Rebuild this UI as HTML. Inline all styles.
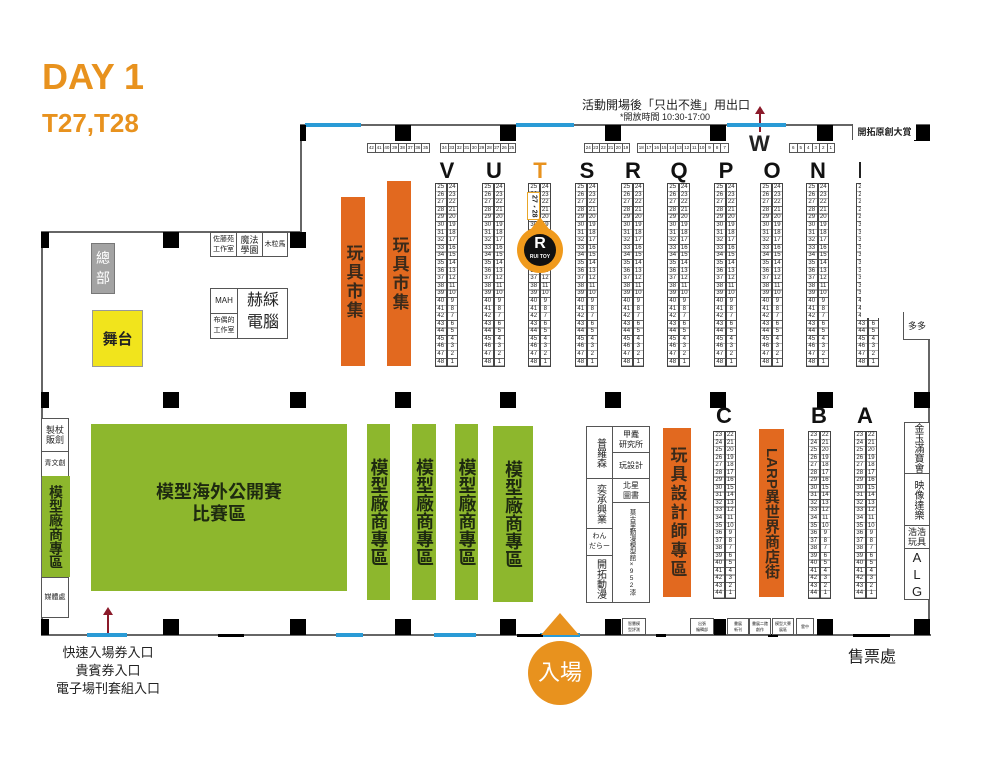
<!DOCTYPE html>
<html><head><meta charset="utf-8"><style>
*{margin:0;padding:0;box-sizing:border-box}
body{width:1000px;height:760px;background:#fff;position:relative;overflow:hidden;font-family:"Liberation Sans","Noto Sans CJK TC",sans-serif;color:#222}
.a{position:absolute}
.w{position:absolute;background:#666}
.p{position:absolute;background:#000;width:16px;height:16px}
.bl{position:absolute;background:#2a9bd6;height:4px}
.bb{position:absolute;background:#000;height:3px}
.col{position:absolute;top:183px;width:23px;display:flex;font-size:6px;line-height:7.6px;text-align:center}
.col>div{width:11.5px;border:1px solid #444;background:repeating-linear-gradient(to bottom,#fff 0,#fff 6.8px,#666 6.8px,#666 7.6px)}
.cb{top:431px;line-height:7.55px}
.cb>div{background:repeating-linear-gradient(to bottom,#fff 0,#fff 6.75px,#666 6.75px,#666 7.55px)}
.lt{position:absolute;top:158px;font-size:22px;font-weight:bold;width:30px;text-align:center;color:#111}
.or{position:absolute;background:#e2691f;color:#3a2a1a;font-size:17px;font-weight:bold;display:flex;align-items:center;justify-content:center;writing-mode:vertical-rl;text-orientation:upright;letter-spacing:2px}
.gr{position:absolute;background:#8db72d;color:#1e2a10;font-size:18px;font-weight:bold;display:flex;align-items:center;justify-content:center;writing-mode:vertical-rl;text-orientation:upright}
.bx{position:absolute;border:1px solid #555;background:#fff;display:flex;align-items:center;justify-content:center;text-align:center;font-size:8px;line-height:10px}
.vt{writing-mode:vertical-rl;text-orientation:upright}
.strip{position:absolute;top:143px;height:10px;display:flex;font-size:4.5px;line-height:8px}
.strip span{flex:1;border:1px solid #555;margin-right:-1px;text-align:center}
</style></head><body>

<div class="a" style="left:42px;top:56px;font-size:36px;font-weight:bold;color:#e8921e">DAY 1</div>
<div class="a" style="left:42px;top:108px;font-size:26px;font-weight:bold;color:#e8921e">T27,T28</div>

<div class="a" style="left:582px;top:96px;font-size:12px">活動開場後「只出不進」用出口</div>
<div class="a" style="left:620px;top:110px;font-size:9px">*開放時間 10:30-17:00</div>
<div class="a" style="left:759px;top:110px;width:2px;height:22px;background:#8b1a2a"></div>
<div class="a" style="left:755px;top:106px;border-left:5px solid transparent;border-right:5px solid transparent;border-bottom:8px solid #8b1a2a"></div>

<!-- walls -->
<div class="w" style="left:300px;top:124px;width:630px;height:2px"></div>
<div class="w" style="left:300px;top:124px;width:2px;height:109px"></div>
<div class="w" style="left:41px;top:231px;width:260px;height:2px"></div>
<div class="w" style="left:41px;top:231px;width:2px;height:405px"></div>
<div class="w" style="left:41px;top:634px;width:890px;height:2px"></div>
<div class="w" style="left:928px;top:318px;width:2px;height:318px"></div>

<div class="bl" style="left:305px;top:123px;width:56px"></div>
<div class="bl" style="left:516px;top:123px;width:58px"></div>
<div class="bl" style="left:727px;top:123px;width:59px"></div>
<div class="bl" style="left:87px;top:633px;width:40px"></div>
<div class="bl" style="left:336px;top:633px;width:27px"></div>
<div class="bl" style="left:434px;top:633px;width:42px"></div>
<div class="bl" style="left:540px;top:633px;width:40px"></div>
<div class="bb" style="left:218px;top:634px;width:26px"></div>
<div class="bb" style="left:517px;top:634px;width:26px"></div>
<div class="bb" style="left:656px;top:634px;width:10px"></div>
<div class="bb" style="left:768px;top:634px;width:10px"></div>
<div class="bb" style="left:853px;top:634px;width:37px"></div>

<!-- pillars -->
<div class="p" style="left:300px;top:125px;width:6px"></div>
<div class="p" style="left:395px;top:125px"></div><div class="p" style="left:500px;top:125px"></div><div class="p" style="left:605px;top:125px"></div><div class="p" style="left:710px;top:125px"></div><div class="p" style="left:817px;top:125px"></div><div class="p" style="left:914px;top:125px"></div>
<div class="p" style="left:41px;top:232px;width:8px"></div><div class="p" style="left:163px;top:232px"></div><div class="p" style="left:290px;top:232px"></div>
<div class="p" style="left:41px;top:392px;width:8px"></div><div class="p" style="left:163px;top:392px"></div><div class="p" style="left:290px;top:392px"></div><div class="p" style="left:395px;top:392px"></div><div class="p" style="left:500px;top:392px"></div><div class="p" style="left:605px;top:392px"></div><div class="p" style="left:710px;top:392px"></div><div class="p" style="left:817px;top:392px"></div><div class="p" style="left:914px;top:392px"></div>
<div class="p" style="left:41px;top:619px;width:8px"></div><div class="p" style="left:163px;top:619px"></div><div class="p" style="left:290px;top:619px"></div><div class="p" style="left:395px;top:619px"></div><div class="p" style="left:500px;top:619px"></div><div class="p" style="left:605px;top:619px"></div><div class="p" style="left:710px;top:619px"></div><div class="p" style="left:817px;top:619px"></div><div class="p" style="left:914px;top:619px"></div>

<!-- top strips -->
<div class="strip" style="left:367px;width:62px"><span>42</span><span>41</span><span>40</span><span>39</span><span>38</span><span>37</span><span>36</span><span>35</span></div>
<div class="strip" style="left:440px;width:75px"><span>34</span><span>33</span><span>32</span><span>31</span><span>30</span><span>29</span><span>28</span><span>27</span><span>26</span><span>25</span></div>
<div class="strip" style="left:584px;width:45px"><span>24</span><span>23</span><span>22</span><span>21</span><span>20</span><span>19</span></div>
<div class="strip" style="left:637px;width:91px"><span>18</span><span>17</span><span>16</span><span>15</span><span>14</span><span>13</span><span>12</span><span>11</span><span>10</span><span>9</span><span>8</span><span>7</span></div>
<div class="strip" style="left:789px;width:45px"><span>6</span><span>5</span><span>4</span><span>3</span><span>2</span><span>1</span></div>
<div class="a" style="left:749px;top:131px;font-size:22px;font-weight:bold">W</div>

<!-- letters -->
<div class="lt" style="left:432px">V</div><div class="lt" style="left:479px">U</div><div class="lt" style="left:525px;color:#e8921e">T</div><div class="lt" style="left:572px">S</div><div class="lt" style="left:618px">R</div><div class="lt" style="left:664px">Q</div><div class="lt" style="left:711px">P</div><div class="lt" style="left:757px">O</div><div class="lt" style="left:803px">N</div>
<div class="a" style="left:859px;top:162px;width:2px;height:16px;background:#222"></div>

<!-- columns -->
<div class="col" style="left:435px"><div>25<br>26<br>27<br>28<br>29<br>30<br>31<br>32<br>33<br>34<br>35<br>36<br>37<br>38<br>39<br>40<br>41<br>42<br>43<br>44<br>45<br>46<br>47<br>48</div><div>24<br>23<br>22<br>21<br>20<br>19<br>18<br>17<br>16<br>15<br>14<br>13<br>12<br>11<br>10<br>9<br>8<br>7<br>6<br>5<br>4<br>3<br>2<br>1</div></div>
<div class="col" style="left:482px"><div>25<br>26<br>27<br>28<br>29<br>30<br>31<br>32<br>33<br>34<br>35<br>36<br>37<br>38<br>39<br>40<br>41<br>42<br>43<br>44<br>45<br>46<br>47<br>48</div><div>24<br>23<br>22<br>21<br>20<br>19<br>18<br>17<br>16<br>15<br>14<br>13<br>12<br>11<br>10<br>9<br>8<br>7<br>6<br>5<br>4<br>3<br>2<br>1</div></div>
<div class="col" style="left:528px"><div>25<br>26<br>27<br>28<br>29<br>30<br>31<br>32<br>33<br>34<br>35<br>36<br>37<br>38<br>39<br>40<br>41<br>42<br>43<br>44<br>45<br>46<br>47<br>48</div><div>24<br>23<br>22<br>21<br>20<br>19<br>18<br>17<br>16<br>15<br>14<br>13<br>12<br>11<br>10<br>9<br>8<br>7<br>6<br>5<br>4<br>3<br>2<br>1</div></div>
<div class="col" style="left:575px"><div>25<br>26<br>27<br>28<br>29<br>30<br>31<br>32<br>33<br>34<br>35<br>36<br>37<br>38<br>39<br>40<br>41<br>42<br>43<br>44<br>45<br>46<br>47<br>48</div><div>24<br>23<br>22<br>21<br>20<br>19<br>18<br>17<br>16<br>15<br>14<br>13<br>12<br>11<br>10<br>9<br>8<br>7<br>6<br>5<br>4<br>3<br>2<br>1</div></div>
<div class="col" style="left:621px"><div>25<br>26<br>27<br>28<br>29<br>30<br>31<br>32<br>33<br>34<br>35<br>36<br>37<br>38<br>39<br>40<br>41<br>42<br>43<br>44<br>45<br>46<br>47<br>48</div><div>24<br>23<br>22<br>21<br>20<br>19<br>18<br>17<br>16<br>15<br>14<br>13<br>12<br>11<br>10<br>9<br>8<br>7<br>6<br>5<br>4<br>3<br>2<br>1</div></div>
<div class="col" style="left:667px"><div>25<br>26<br>27<br>28<br>29<br>30<br>31<br>32<br>33<br>34<br>35<br>36<br>37<br>38<br>39<br>40<br>41<br>42<br>43<br>44<br>45<br>46<br>47<br>48</div><div>24<br>23<br>22<br>21<br>20<br>19<br>18<br>17<br>16<br>15<br>14<br>13<br>12<br>11<br>10<br>9<br>8<br>7<br>6<br>5<br>4<br>3<br>2<br>1</div></div>
<div class="col" style="left:714px"><div>25<br>26<br>27<br>28<br>29<br>30<br>31<br>32<br>33<br>34<br>35<br>36<br>37<br>38<br>39<br>40<br>41<br>42<br>43<br>44<br>45<br>46<br>47<br>48</div><div>24<br>23<br>22<br>21<br>20<br>19<br>18<br>17<br>16<br>15<br>14<br>13<br>12<br>11<br>10<br>9<br>8<br>7<br>6<br>5<br>4<br>3<br>2<br>1</div></div>
<div class="col" style="left:760px"><div>25<br>26<br>27<br>28<br>29<br>30<br>31<br>32<br>33<br>34<br>35<br>36<br>37<br>38<br>39<br>40<br>41<br>42<br>43<br>44<br>45<br>46<br>47<br>48</div><div>24<br>23<br>22<br>21<br>20<br>19<br>18<br>17<br>16<br>15<br>14<br>13<br>12<br>11<br>10<br>9<br>8<br>7<br>6<br>5<br>4<br>3<br>2<br>1</div></div>
<div class="col" style="left:806px"><div>25<br>26<br>27<br>28<br>29<br>30<br>31<br>32<br>33<br>34<br>35<br>36<br>37<br>38<br>39<br>40<br>41<br>42<br>43<br>44<br>45<br>46<br>47<br>48</div><div>24<br>23<br>22<br>21<br>20<br>19<br>18<br>17<br>16<br>15<br>14<br>13<br>12<br>11<br>10<br>9<br>8<br>7<br>6<br>5<br>4<br>3<br>2<br>1</div></div>
<div class="col" style="left:856px"><div>25<br>26<br>27<br>28<br>29<br>30<br>31<br>32<br>33<br>34<br>35<br>36<br>37<br>38<br>39<br>40<br>41<br>42<br>43<br>44<br>45<br>46<br>47<br>48</div><div>24<br>23<br>22<br>21<br>20<br>19<br>18<br>17<br>16<br>15<br>14<br>13<br>12<br>11<br>10<br>9<br>8<br>7<br>6<br>5<br>4<br>3<br>2<br>1</div></div>
<div class="a" style="left:861px;top:178px;width:69px;height:140px;background:#fff"></div>
<div class="bx" style="left:903px;top:312px;width:27px;height:28px;font-size:9px;border-right:none;border-top:none" >多多</div>
<div class="bx" style="left:852px;top:124px;width:64px;height:16px;font-size:9px;font-weight:bold;border:none;border-left:1px solid #555">開拓原創大賞</div>

<!-- T marker -->
<div class="bx" style="left:527px;top:192px;width:13px;height:28px;border:1.5px solid #e8a62a;font-size:7px;font-weight:bold;writing-mode:vertical-rl">27、28</div>
<div class="a" style="left:528px;top:217px;border-left:12px solid transparent;border-right:12px solid transparent;border-bottom:16px solid #f09a1c"></div>
<div class="a" style="left:517px;top:227px;width:46px;height:46px;border-radius:50%;background:#f09a1c"></div>
<div class="a" style="left:524px;top:234px;width:32px;height:32px;border-radius:50%;background:#111;color:#fff;text-align:center;font-size:16px;font-weight:bold;line-height:20px">R<div style="font-size:5px;line-height:6px">RUI TOY</div></div>

<!-- orange market -->
<div class="or" style="left:341px;top:197px;width:24px;height:169px">玩具市集</div>
<div class="or" style="left:387px;top:181px;width:24px;height:185px">玩具市集</div>

<!-- left upper -->
<div class="a" style="left:91px;top:243px;width:24px;height:51px;background:#a3a3a3;border:1px solid #777;color:#fff;font-size:14px;line-height:20px;text-align:center;padding-top:4px">總<br>部</div>
<div class="a" style="left:92px;top:310px;width:51px;height:57px;background:#f1e41c;border:1px solid #999;font-size:15px;font-weight:bold;display:flex;align-items:center;justify-content:center">舞台</div>
<div class="bx" style="left:210px;top:232px;width:27px;height:25px;font-size:7px">佐藤苑<br>工作室</div>
<div class="bx" style="left:236px;top:232px;width:27px;height:25px;font-size:9px">魔法<br>學園</div>
<div class="bx" style="left:262px;top:232px;width:26px;height:25px;font-size:7px">木粒馬</div>
<div class="bx" style="left:210px;top:288px;width:78px;height:51px"></div>
<div class="bx" style="left:210px;top:288px;width:28px;height:26px;font-size:8px">MAH</div>
<div class="bx" style="left:210px;top:313px;width:28px;height:26px;font-size:7px">布偶的<br>工作室</div>
<div class="a" style="left:240px;top:290px;width:46px;font-size:16px;line-height:22px;text-align:center">赫綵<br>電腦</div>

<!-- left wall -->
<div class="bx" style="left:41px;top:418px;width:28px;height:34px;font-size:9px">製杖<br>販劍</div>
<div class="bx" style="left:41px;top:451px;width:28px;height:26px;font-size:7px">青文創</div>
<div class="gr" style="left:42px;top:476px;width:28px;height:101px;font-size:14px">模型廠商專區</div>
<div class="bx" style="left:41px;top:577px;width:28px;height:41px;font-size:7px">媒體處</div>

<div class="a" style="left:91px;top:424px;width:256px;height:167px;background:#8db72d;color:#1e2a10;font-size:18px;font-weight:bold;text-align:center;padding-top:57px;line-height:22px">模型海外公開賽<br>比賽區</div>
<div class="gr" style="left:367px;top:424px;width:23px;height:176px">模型廠商專區</div>
<div class="gr" style="left:412px;top:424px;width:24px;height:176px">模型廠商專區</div>
<div class="gr" style="left:455px;top:424px;width:23px;height:176px">模型廠商專區</div>
<div class="gr" style="left:493px;top:426px;width:40px;height:176px">模型廠商專區</div>

<!-- middle stalls -->
<div class="bx vt" style="left:586px;top:426px;width:27px;height:53px;font-size:10px">普羅森</div>
<div class="bx vt" style="left:586px;top:478px;width:27px;height:51px;font-size:10px">奕承興業</div>
<div class="bx" style="left:586px;top:528px;width:27px;height:28px;font-size:7px">わん<br>だらー</div>
<div class="bx vt" style="left:586px;top:555px;width:27px;height:48px;font-size:10px">開拓動漫</div>
<div class="bx" style="left:612px;top:426px;width:38px;height:27px;font-size:8px">甲蠹<br>研究所</div>
<div class="bx" style="left:612px;top:452px;width:38px;height:27px;font-size:8px">玩設計</div>
<div class="bx" style="left:612px;top:478px;width:38px;height:25px;font-size:8px">北星<br>圖書</div>
<div class="bx vt" style="left:612px;top:502px;width:38px;height:101px;font-size:6.5px">莫古里動漫模型館×952漆</div>

<div class="or" style="left:663px;top:428px;width:28px;height:169px">玩具設計師專區</div>
<div class="or" style="left:759px;top:429px;width:25px;height:168px;font-size:15px;letter-spacing:0;text-orientation:mixed">LARP異世界商店街</div>

<div class="lt" style="left:709px;top:403px">C</div><div class="lt" style="left:804px;top:403px">B</div><div class="lt" style="left:850px;top:403px">A</div>
<div class="col cb" style="left:713px"><div>23<br>24<br>25<br>26<br>27<br>28<br>29<br>30<br>31<br>32<br>33<br>34<br>35<br>36<br>37<br>38<br>39<br>40<br>41<br>42<br>43<br>44</div><div>22<br>21<br>20<br>19<br>18<br>17<br>16<br>15<br>14<br>13<br>12<br>11<br>10<br>9<br>8<br>7<br>6<br>5<br>4<br>3<br>2<br>1</div></div>
<div class="col cb" style="left:808px"><div>23<br>24<br>25<br>26<br>27<br>28<br>29<br>30<br>31<br>32<br>33<br>34<br>35<br>36<br>37<br>38<br>39<br>40<br>41<br>42<br>43<br>44</div><div>22<br>21<br>20<br>19<br>18<br>17<br>16<br>15<br>14<br>13<br>12<br>11<br>10<br>9<br>8<br>7<br>6<br>5<br>4<br>3<br>2<br>1</div></div>
<div class="col cb" style="left:854px"><div>23<br>24<br>25<br>26<br>27<br>28<br>29<br>30<br>31<br>32<br>33<br>34<br>35<br>36<br>37<br>38<br>39<br>40<br>41<br>42<br>43<br>44</div><div>22<br>21<br>20<br>19<br>18<br>17<br>16<br>15<br>14<br>13<br>12<br>11<br>10<br>9<br>8<br>7<br>6<br>5<br>4<br>3<br>2<br>1</div></div>

<div class="bx vt" style="left:904px;top:422px;width:26px;height:52px;font-size:10px">金玉滿寶會</div>
<div class="bx vt" style="left:904px;top:473px;width:26px;height:53px;font-size:10px">映像達樂</div>
<div class="bx" style="left:904px;top:525px;width:26px;height:24px;font-size:9px">浩浩<br>玩具</div>
<div class="bx" style="left:904px;top:548px;width:26px;height:52px;font-size:13px;line-height:17px">A<br>L<br>G</div>

<!-- bottom booths -->
<div class="bx" style="left:622px;top:618px;width:24px;height:17px;font-size:4px;line-height:6px">智慧模<br>型評測</div>
<div class="bx" style="left:690px;top:618px;width:24px;height:17px;font-size:4px;line-height:6px">出張<br>編輯部</div>
<div class="bx" style="left:727px;top:618px;width:22px;height:17px;font-size:4px;line-height:6px">書展<br>新刊</div>
<div class="bx" style="left:749px;top:618px;width:22px;height:17px;font-size:4px;line-height:6px">書展二館<br>創作</div>
<div class="bx" style="left:772px;top:618px;width:22px;height:17px;font-size:4px;line-height:6px">模型大賽<br>展區</div>
<div class="bx" style="left:796px;top:618px;width:18px;height:17px;font-size:4px;line-height:6px">雲中</div>

<!-- entrance -->
<div class="a" style="left:541px;top:613px;border-left:19px solid transparent;border-right:19px solid transparent;border-bottom:22px solid #e8921e"></div>
<div class="a" style="left:528px;top:641px;width:64px;height:64px;border-radius:50%;background:#e8921e;color:#fff;font-size:22px;line-height:64px;text-align:center">入場</div>

<div class="a" style="left:107px;top:611px;width:2px;height:22px;background:#8b1a2a"></div>
<div class="a" style="left:103px;top:607px;border-left:5px solid transparent;border-right:5px solid transparent;border-bottom:8px solid #8b1a2a"></div>
<div class="a" style="left:38px;top:644px;width:140px;text-align:center;font-size:13px;line-height:18px">快速入場券入口<br>貴賓券入口<br>電子場刊套組入口</div>
<div class="a" style="left:848px;top:643px;font-size:16px">售票處</div>
</body></html>
